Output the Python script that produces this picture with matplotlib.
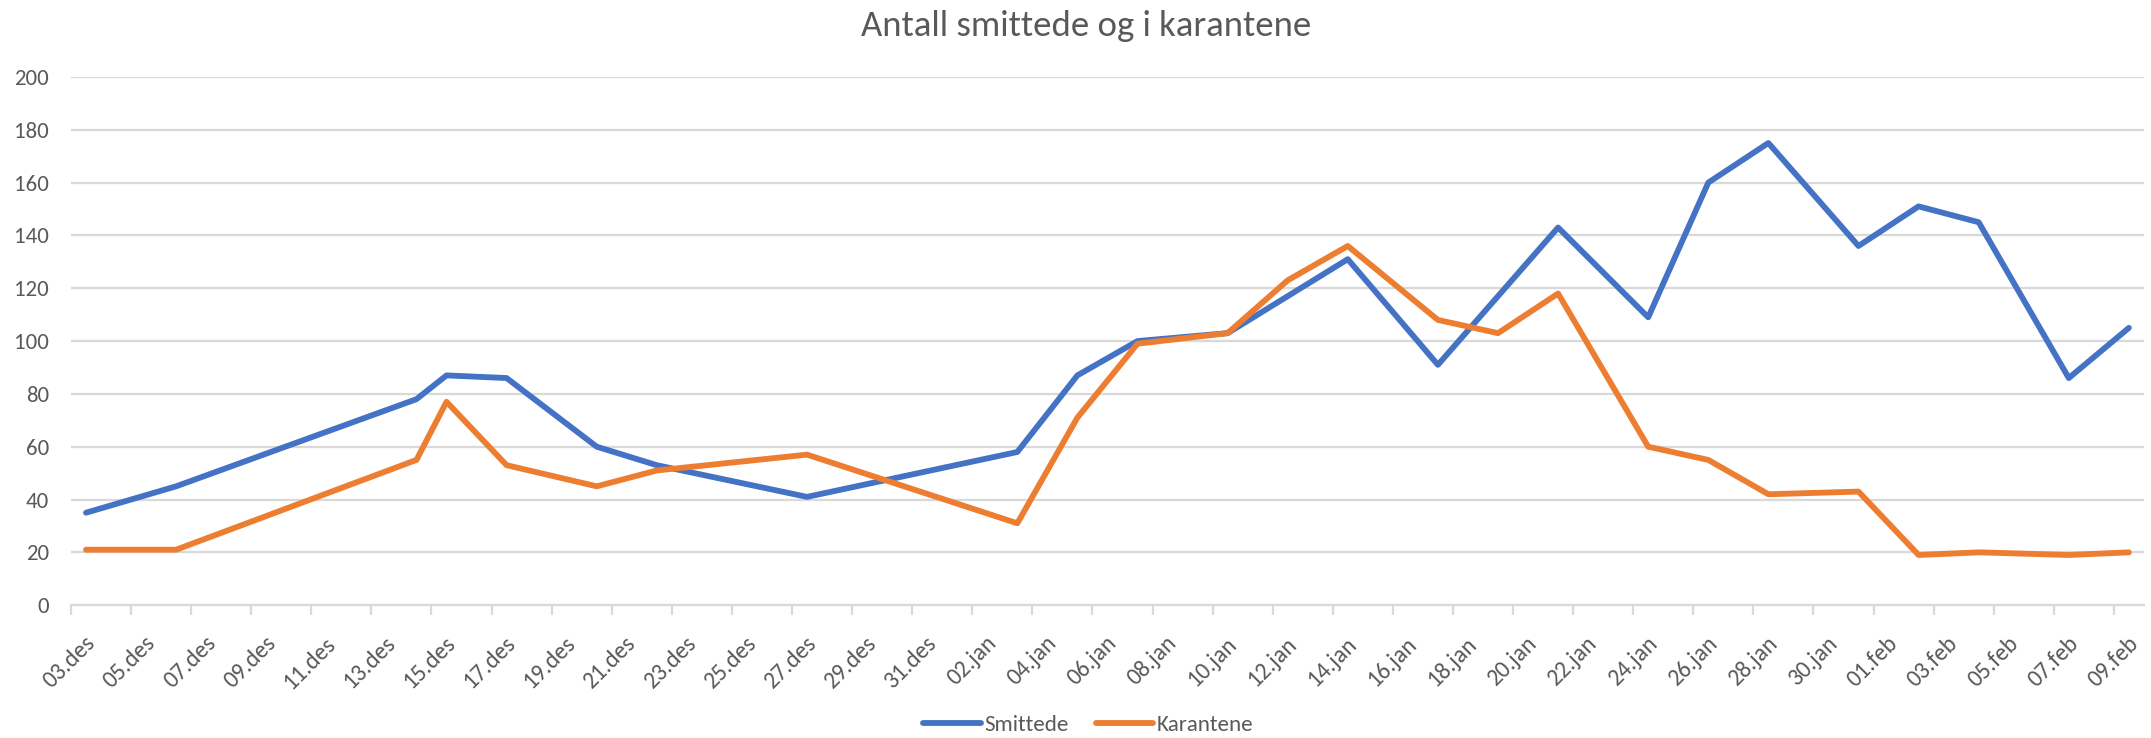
import datetime as dt
import numpy as np
import matplotlib
matplotlib.use("Agg")
import matplotlib.pyplot as plt

plt.rcParams['font.family'] = ['Carlito', 'Liberation Sans Narrow', 'DejaVu Sans']

# data
dates = ["03.12.2020", "06.12.2020", "14.12.2020", "15.12.2020", "17.12.2020",
         "20.12.2020", "22.12.2020", "27.12.2020", "03.01.2021", "05.01.2021",
         "07.01.2021", "10.01.2021", "12.01.2021", "14.01.2021", "17.01.2021",
         "19.01.2021", "21.01.2021", "24.01.2021", "26.01.2021", "28.01.2021",
         "31.01.2021", "02.02.2021", "04.02.2021", "07.02.2021", "09.02.2021"]
smittede = [35, 45, 78, 87, 86, 60, 53, 41, 58, 87, 100, 103, 117, 131, 91,
            117, 143, 109, 160, 175, 136, 151, 145, 86, 105]
karantene = [21, 21, 55, 77, 53, 45, 51, 57, 31, 71, 99, 103, 123, 136, 108,
             103, 118, 60, 55, 42, 43, 19, 20, 19, 20]
months = {12: "des", 1: "jan", 2: "feb"}

start = dt.date(2020, 12, 3)
end = dt.date(2021, 2, 9)
days = [(dt.datetime.strptime(d, "%d.%m.%Y").date() - start).days for d in dates]
x = np.array(days) + 0.5
ndays = (end - start).days + 1

tick_days = np.arange(0, ndays, 2)
tick_labels = []
for d in tick_days:
    day = start + dt.timedelta(days=int(d))
    tick_labels.append("%02d.%s" % (day.day, months[day.month]))

grey = "#595959"
gridc = "#d9d9d9"

fig = plt.figure(figsize=(21.51, 7.38), dpi=100)
ax = fig.add_axes([0.033, 0.18, 0.9637, 0.7157])

ax.plot(x, smittede, color="#4472C4", lw=4.2, label="Smittede",
        solid_joinstyle="round", solid_capstyle="round")
ax.plot(x, karantene, color="#ED7D31", lw=4.2, label="Karantene",
        solid_joinstyle="round", solid_capstyle="round")

ax.set_xlim(0, ndays)
ax.set_ylim(0, 200)
ax.set_yticks(np.arange(0, 201, 20))
ax.yaxis.grid(True, color=gridc, lw=1.6)
ax.set_axisbelow(True)
ax.tick_params(axis="y", length=0, pad=16, labelsize=16.5, labelcolor=grey)

ax.set_xticks(tick_days)
ax.set_xticklabels([])
ax.tick_params(axis="x", which="major", length=7, width=1.6, color=gridc,
               direction="out")
ax.set_xticks(tick_days + 0.7, minor=True)
ax.set_xticklabels(tick_labels, minor=True, rotation=45, ha="right",
                   va="center", rotation_mode="anchor")
ax.tick_params(axis="x", which="minor", length=0, pad=25, labelsize=17,
               labelcolor=grey)

for s in ["top", "right", "left"]:
    ax.spines[s].set_visible(False)
ax.spines["bottom"].set_color(gridc)
ax.spines["bottom"].set_linewidth(1.6)

fig.text(0.505, 0.965, "Antall smittede og i karantene", ha="center",
         va="center", fontsize=26.5, color=grey)

fig.legend(loc="center", bbox_to_anchor=(0.506, 0.0176), ncol=2, frameon=False,
           fontsize=16.5, labelcolor=grey, handlelength=2.5, handletextpad=0.15,
           columnspacing=1.2)

fig.savefig("out.png", dpi=100)
